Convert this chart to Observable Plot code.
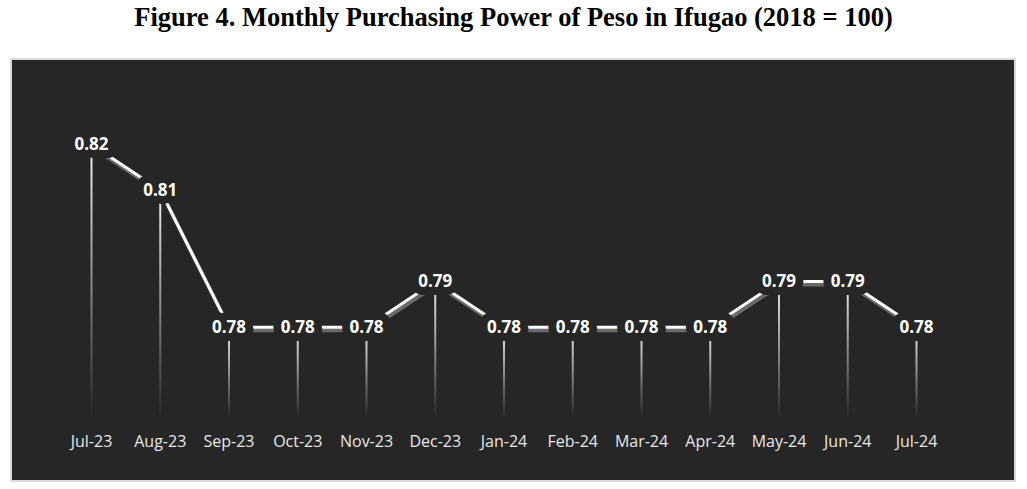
<!DOCTYPE html>
<html><head><meta charset="utf-8">
<script src="https://cdn.jsdelivr.net/npm/d3@7"></script>
<script src="https://cdn.jsdelivr.net/npm/@observablehq/plot@0.6"></script>
<style>
body{margin:0;background:#fff;width:1027px;height:489px;position:relative;overflow:hidden}
#title{position:absolute;left:0;top:3px;width:1027px;text-align:center;font:bold 26.5px "Liberation Serif","Times New Roman",serif;color:#000;line-height:28px}
#panel{position:absolute;left:10px;top:58px;border:2px solid #d9d9d9;width:1002px;height:420px;background:#262626}
#panel svg{display:block}
</style></head><body>
<div id="title">Figure 4. Monthly Purchasing Power of Peso in Ifugao (2018 = 100)</div>
<div id="panel"></div>
<script>
const months = ["Jul-23","Aug-23","Sep-23","Oct-23","Nov-23","Dec-23","Jan-24","Feb-24","Mar-24","Apr-24","May-24","Jun-24","Jul-24"];
const values = [0.82,0.81,0.78,0.78,0.78,0.79,0.78,0.78,0.78,0.78,0.79,0.79,0.78];
const baseline = 0.76;
const data = months.map((m,i)=>({month:m, value:values[i]}));

const plot = Plot.plot({
  width:1002, height:420,
  marginLeft:79, marginRight:98, marginTop:0, marginBottom:50,
  style:{background:"transparent", overflow:"visible", fontFamily:"'Open Sans', sans-serif"},
  x:{type:"point", domain:months, padding:0, round:false, label:null},
  y:{domain:[baseline,0.82], range:[358,84], axis:null},
  marks:[
    Plot.ruleX(data,{x:"month", y1:baseline, y2:"value", stroke:"#fff", strokeWidth:2}),
    Plot.line(data,{x:"month", y:"value", stroke:"#6a6a6a", strokeWidth:4, dx:1.5, dy:3}),
    Plot.line(data,{x:"month", y:"value", stroke:"#ffffff", strokeWidth:3}),
    Plot.text(data,{x:"month", y:"value", text:d=>d.value.toFixed(2), fill:"#ffffff",
      stroke:"#262626", strokeWidth:16, fontWeight:"bold", fontSize:17}),
    Plot.axisX({tickSize:0, tickPadding:5, fontSize:16, color:"#e8e8e8", label:null})
  ]
});
document.getElementById("panel").appendChild(plot);

// vertical gradient on each drop line (bright at top, fading downward)
const svg = d3.select(plot);
const defs = svg.insert("defs", ":first-child");
svg.selectAll('g[aria-label="rule"] line').each(function(_, i){
  const l = d3.select(this);
  const x = +l.attr("x1") || 0;
  const ya = +l.attr("y1"), yb = +l.attr("y2");
  const top = Math.min(ya, yb), bot = Math.max(ya, yb);
  const g = defs.append("linearGradient").attr("id", "drop" + i)
    .attr("gradientUnits", "userSpaceOnUse")
    .attr("x1", x).attr("x2", x).attr("y1", top).attr("y2", bot);
  g.append("stop").attr("offset", 0).attr("stop-color", "#ffffff").attr("stop-opacity", 0.95);
  g.append("stop").attr("offset", 1).attr("stop-color", "#ffffff").attr("stop-opacity", 0);
  l.attr("stroke", `url(#drop${i})`);
});
</script>
</body></html>
